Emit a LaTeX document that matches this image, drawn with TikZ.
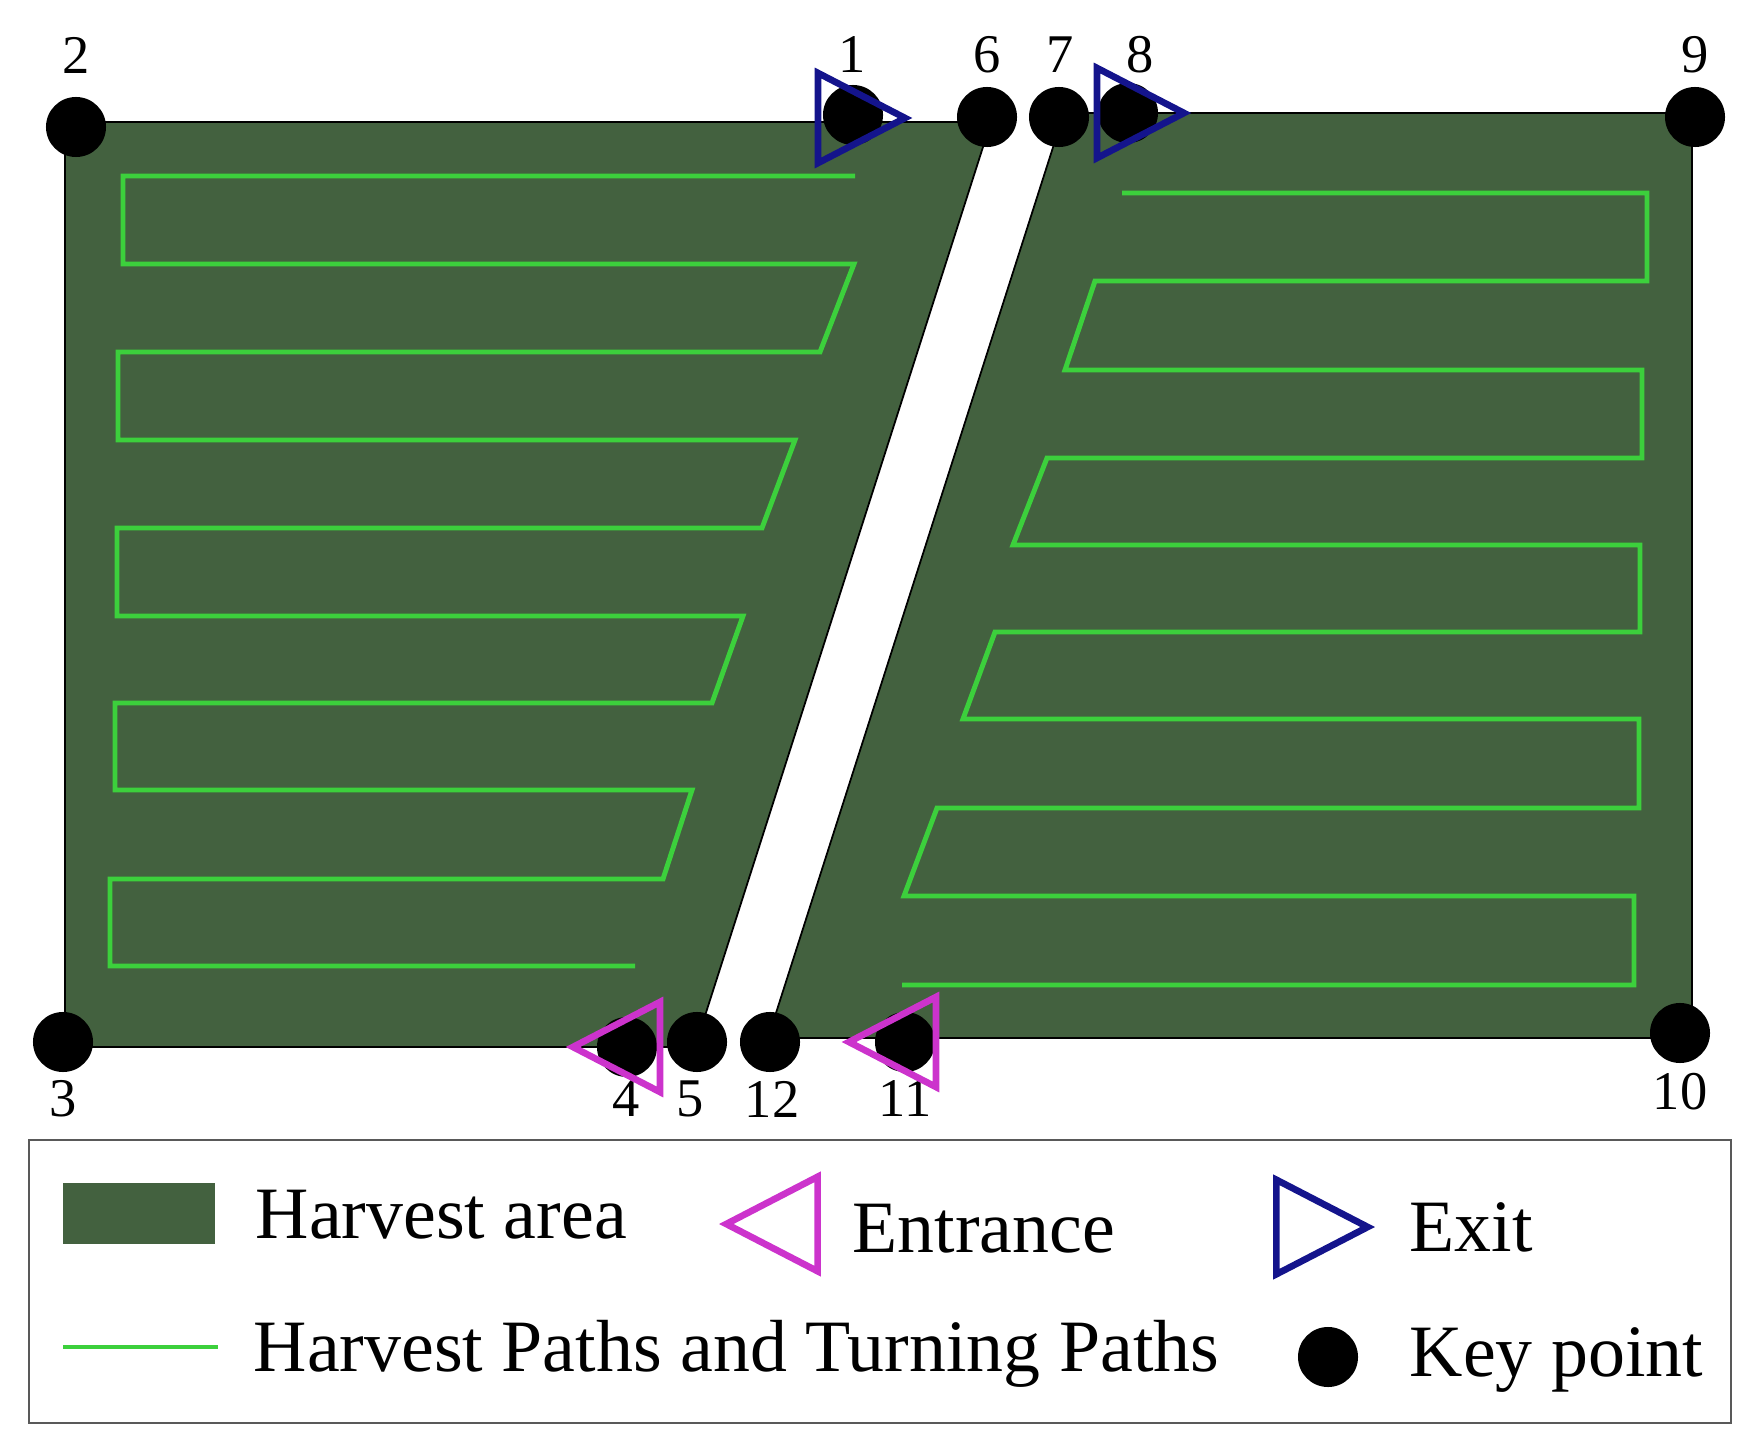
\documentclass[tikz,border=0pt]{standalone}
\usepackage{fontspec}
\setmainfont{Liberation Serif}
\definecolor{fieldgreen}{RGB}{67,97,63}
\definecolor{pathgreen}{RGB}{60,208,60}
\definecolor{exitblue}{RGB}{20,20,140}
\definecolor{entmagenta}{RGB}{204,51,204}
\tikzset{
  keypt/.style={circle, fill=black, inner sep=0pt, minimum size=0.6cm},
  num/.style={inner sep=0pt, font=\fontsize{15.5}{18}\selectfont},
  legtext/.style={anchor=base west, inner sep=0pt, font=\fontsize{21}{25}\selectfont},
  field/.style={fill=fieldgreen, draw=black, line width=0.5pt},
  harvpath/.style={pathgreen, line width=1.4pt},
  exitmark/.pic={\draw[exitblue, line width=1.9pt] (-33,-45) -- (54,0) -- (-33,45) -- cycle;},
  entmark/.pic={\draw[entmagenta, line width=1.9pt] (33,-45) -- (-54,0) -- (33,45) -- cycle;},
}
\begin{document}
\begin{tikzpicture}[x=0.01cm, y=-0.01cm]
  \useasboundingbox (0,0) rectangle (1754,1449);

  % the two harvest areas, the road runs between them
  \draw[field] (65,122) -- (991,122) -- (695,1047) -- (65,1047) -- cycle;
  \draw[field] (1064,113) -- (1692,113) -- (1692,1038) -- (768,1038) -- cycle;

  % harvest paths and turning paths
  \draw[harvpath] (855,176) -- (123,176) -- (123,264) -- (854,264) -- (820,352)
    -- (118,352) -- (118,440) -- (795,440) -- (762,528) -- (117,528) -- (117,616)
    -- (743,616) -- (712,703) -- (115,703) -- (115,790) -- (692,790) -- (663,879)
    -- (110,879) -- (110,966) -- (635,966);
  \draw[harvpath] (1122,193) -- (1647,193) -- (1647,281) -- (1095,281) -- (1065,370)
    -- (1642,370) -- (1642,458) -- (1047,458) -- (1013,545) -- (1640,545) -- (1640,632)
    -- (995,632) -- (963,719) -- (1639,719) -- (1639,808) -- (937,808) -- (904,896)
    -- (1634,896) -- (1634,985) -- (902,985);

  % key points
  \node[keypt] (p1) at (853,115) {};
  \node[keypt] (p2) at (76,127) {};
  \node[keypt] (p3) at (63,1042) {};
  \node[keypt] (p4) at (627,1047) {};
  \node[keypt] (p5) at (697,1042) {};
  \node[keypt] (p6) at (987,117) {};
  \node[keypt] (p7) at (1059,117) {};
  \node[keypt] (p8) at (1128,113) {};
  \node[keypt] (p9) at (1695,117) {};
  \node[keypt] (p10) at (1680,1033) {};
  \node[keypt] (p11) at (905,1042) {};
  \node[keypt] (p12) at (770,1042) {};

  \node[num] (n1) at (852,55) {1};
  \node[num] (n2) at (76,55) {2};
  \node[num] (n3) at (63,1099) {3};
  \node[num] (n4) at (626,1099) {4};
  \node[num] (n5) at (690,1099) {5};
  \node[num] (n6) at (987,55) {6};
  \node[num] (n7) at (1060,55) {7};
  \node[num] (n8) at (1140,55) {8};
  \node[num] (n9) at (1695,55) {9};
  \node[num] (n10) at (1680,1092) {10};
  \node[num] (n11) at (905,1099) {11};
  \node[num] (n12) at (772,1099) {12};

  % exits and entrances
  \pic at (851,118) {exitmark};
  \pic at (1130,113) {exitmark};
  \pic at (627,1047) {entmark};
  \pic at (903,1042) {entmark};

  % legend
  \draw[black!65, line width=0.6pt] (29,1140) rectangle (1731,1423);
  \fill[fieldgreen] (63,1183) rectangle (215,1244);
  \node[legtext] (tarea) at (255,1238) {Harvest area};
  \pic[scale=1.05] at (783,1224) {entmark};
  \node[legtext] (tent) at (852,1252) {Entrance};
  \pic[scale=1.05] at (1311,1227) {exitmark};
  \node[legtext] (texit) at (1409,1251) {Exit};
  \draw[harvpath] (63,1347) -- (218,1347);
  \node[legtext] (tpath) at (253,1371) {Harvest Paths and Turning Paths};
  \node[keypt] (lkey) at (1328,1357) {};
  \node[legtext] (tkey) at (1409,1376) {Key point};
\end{tikzpicture}
\end{document}
